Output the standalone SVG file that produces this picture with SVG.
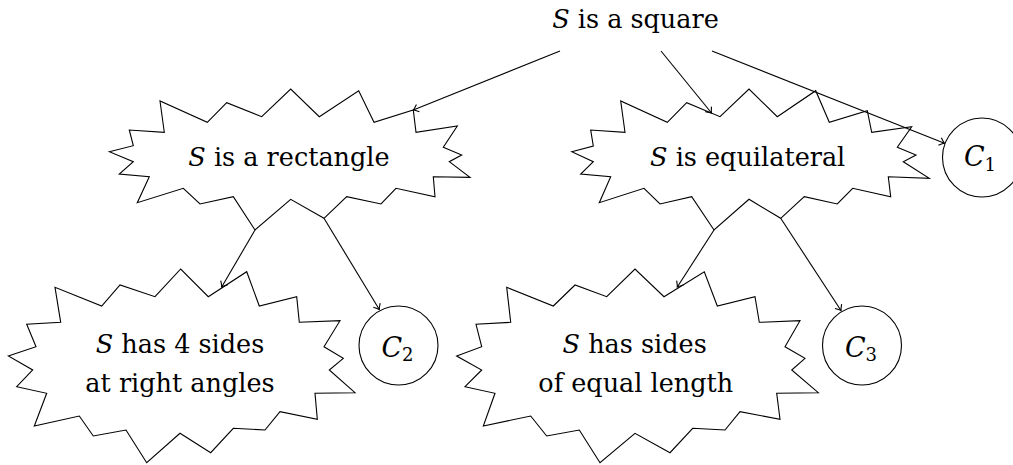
<svg xmlns="http://www.w3.org/2000/svg" width="1013" height="465" viewBox="0 0 1013 465">
<style>
.shape{fill:none;stroke:#000;stroke-width:1.1;stroke-linejoin:miter}
.lbl{font-family:"DejaVu Serif","Liberation Serif",serif;font-size:25.5px;fill:#000;text-anchor:middle}
.big{font-size:27px}
.it{font-style:italic}
.sub{font-size:18px}
.edge{fill:none;stroke:#000;stroke-width:1.1}
</style>
<defs>
<marker id="arr" markerUnits="userSpaceOnUse" markerWidth="12" markerHeight="12" viewBox="-7 -6 8 12" refX="0" refY="0" orient="auto">
<path d="M -5,-4 Q -1.5,-0.8 0,0 Q -1.5,0.8 -5,4" fill="none" stroke="#000" stroke-width="1.1"/>
</marker>
</defs>
<rect width="1013" height="465" fill="#fff"/>
<g id="square">
<text class="lbl" x="635.5" y="28.3"><tspan class="it">S</tspan> is a square</text>
</g>
<g id="rectangle">
<polygon class="shape" points="109.3,151.7 133.3,145.7 129.3,130 164.3,132.3 160,101 207.3,122.3 226.7,102.7 261.7,116.7 290.7,89 319.3,116.7 358.7,90.7 374,122.3 413.3,110 416,132.3 457.3,126 443.3,147.3 461.7,155 449.3,161.7 470,177.3 433.3,176.7 435,196.7 396,188.3 381,204 346.7,196.7 324,218.3 290.7,199.3 255,230 233.3,196.7 200,204 183.3,188.3 137.3,202.7 149.3,176.7 119.3,174 133.3,161.7"/>
<text class="lbl" x="289" y="166"><tspan class="it">S</tspan> is a rectangle</text>
</g>
<g id="equilateral">
<polygon class="shape" points="571.7,151.7 593.3,146 590.7,130 625,132.3 620.7,101 667.3,122.3 686.7,102.7 720,116.7 749,89 777.3,116.7 815.7,90.7 829.3,122.3 867.3,110.7 871.7,132.3 911.7,126.7 897.3,147.3 916,155 903.3,161.7 929.3,178.3 888.3,176.7 890.7,196.7 852.7,188.3 837.3,204 804.3,196.7 780.7,218.3 749,199.3 714,230 691.7,196.7 660,204 644,188.3 599.3,202.7 610.7,176.7 580.7,174 593.3,161.7"/>
<text class="lbl" x="747.7" y="166"><tspan class="it">S</tspan> is equilateral</text>
</g>
<g id="c1">
<circle class="shape" cx="982" cy="157.5" r="39.5"/>
<text class="lbl big" x="980" y="166"><tspan class="it">C</tspan><tspan class="sub" dy="5">1</tspan></text>
</g>
<g id="foursides">
<polygon class="shape" points="8.3,356 36,346.7 26.7,324.3 60.7,322.3 55,287.3 101.7,306 120,285 155,296.7 180.7,269 208.3,296.7 246.7,271.7 259.3,306 296.7,296.7 299.3,322.3 340,320.7 324,346.7 343.3,358.3 329.3,370 355,392.7 315,393.3 317.3,419.3 280,411.7 265,430 233.3,428.3 210.7,452.7 180,433.3 146.7,462.7 126,430 93.3,436 79.3,416 34.3,426 46.7,393.3 16.7,386.7 32.7,370"/>
<text class="lbl" x="180" y="353.3"><tspan class="it">S</tspan> has 4 sides</text>
<text class="lbl" x="180" y="391.7">at right angles</text>
</g>
<g id="c2">
<circle class="shape" cx="398.5" cy="345.5" r="39.5"/>
<text class="lbl big" x="397.5" y="356.5"><tspan class="it">C</tspan><tspan class="sub" dy="4">2</tspan></text>
</g>
<g id="equallength">
<polygon class="shape" points="456.7,356 481.7,346.7 476,324.3 510.7,322.3 506.7,287.3 553.3,306 575,285 606.7,296.7 635,269 664,296.7 704.3,271.7 717.3,306 755,296.7 759.3,322.3 800,320.7 785,346.7 805,358.3 791.7,370 818.3,392.7 776.7,393.3 780,419.3 740,411.7 725,430 692.7,428.3 670,452.7 635,433.3 600,462.7 579.3,430 546.7,436 530.7,416 483.3,426 495,393.3 465,386.7 481.7,370"/>
<text class="lbl" x="634.7" y="353.3"><tspan class="it">S</tspan> has sides</text>
<text class="lbl" x="635.8" y="391.7">of equal length</text>
</g>
<g id="c3">
<circle class="shape" cx="862" cy="345.5" r="39.5"/>
<text class="lbl big" x="861" y="356.5"><tspan class="it">C</tspan><tspan class="sub" dy="4">3</tspan></text>
</g>
<g id="connectors">
<line class="edge" x1="560" y1="51" x2="413.3" y2="110" marker-end="url(#arr)"/>
<line class="edge" x1="661" y1="51" x2="711.5" y2="113" marker-end="url(#arr)"/>
<line class="edge" x1="712" y1="51" x2="944.5" y2="143.3" marker-end="url(#arr)"/>
<line class="edge" x1="255" y1="230" x2="221.7" y2="287" marker-end="url(#arr)"/>
<line class="edge" x1="324" y1="218.3" x2="379.3" y2="309.5" marker-end="url(#arr)"/>
<line class="edge" x1="714" y1="230" x2="677.3" y2="287" marker-end="url(#arr)"/>
<line class="edge" x1="780.7" y1="218.3" x2="841" y2="310.5" marker-end="url(#arr)"/>
</g>
</svg>
